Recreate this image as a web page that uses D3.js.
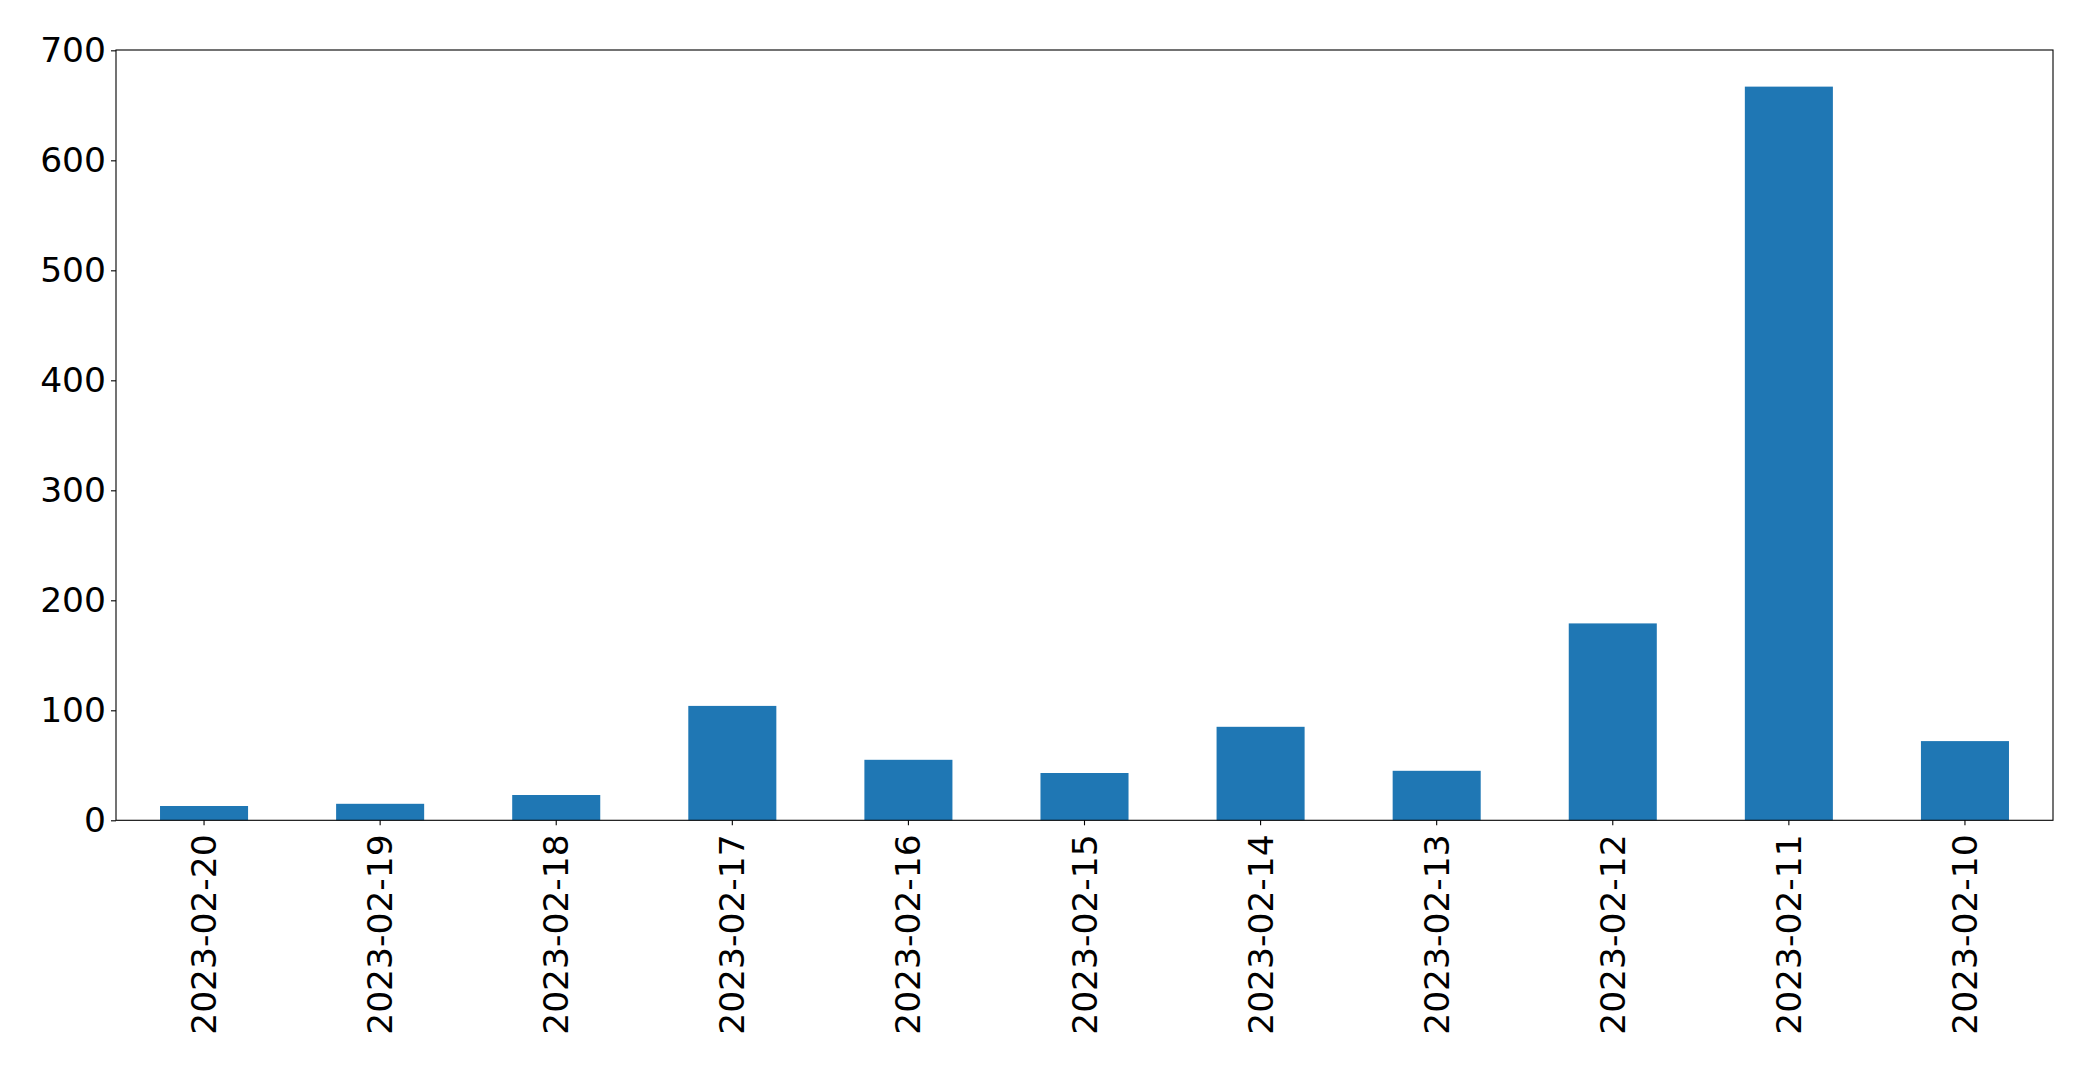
<!DOCTYPE html>
<html>
<head>
<meta charset="utf-8">
<script src="https://cdn.jsdelivr.net/npm/d3@7"></script>
<style>
  html, body { margin: 0; padding: 0; background: #fff; }
  svg { display: block; }
  text { font-family: "DejaVu Sans", sans-serif; fill: #000; }
</style>
</head>
<body>
<svg id="chart" width="2093" height="1072"></svg>
<script>
const categories = ["2023-02-20","2023-02-19","2023-02-18","2023-02-17","2023-02-16","2023-02-15","2023-02-14","2023-02-13","2023-02-12","2023-02-11","2023-02-10"];
const values = [13, 15, 23, 104, 55, 43, 85, 45, 179, 667, 72];
const yTicks = [0, 100, 200, 300, 400, 500, 600, 700];

const W = 2093, H = 1072;
const m = { left: 116, right: 2053, top: 50, bottom: 820.3 };
const fontSize = 34.5;

const svg = d3.select("#chart");

const x = d3.scaleBand()
  .domain(categories)
  .range([m.left, m.right])
  .paddingInner(0.5)
  .paddingOuter(0.25);

const y = d3.scaleLinear()
  .domain([0, 700.3])
  .range([m.bottom, m.top]);

// bars
svg.append("g")
  .selectAll("rect")
  .data(categories)
  .join("rect")
  .attr("x", d => x(d))
  .attr("width", x.bandwidth())
  .attr("y", (d, i) => y(values[i]))
  .attr("height", (d, i) => y(0) - y(values[i]))
  .attr("fill", "#1f77b4");

// y axis
const yAxis = svg.append("g")
  .attr("transform", `translate(${m.left},0)`)
  .call(d3.axisLeft(y).tickValues(yTicks).tickSize(5).tickPadding(5).tickFormat(d3.format("d")));
yAxis.select(".domain").remove();
yAxis.selectAll(".tick line").attr("stroke", "#000").attr("stroke-width", 1.1);
yAxis.selectAll(".tick text")
  .style("font-family", "'DejaVu Sans', sans-serif")
  .style("font-size", fontSize + "px")
  .attr("fill", "#000");

// x axis
const xAxis = svg.append("g")
  .attr("transform", `translate(0,${m.bottom})`)
  .call(d3.axisBottom(x).tickSize(5).tickPadding(5));
xAxis.select(".domain").remove();
xAxis.selectAll(".tick line").attr("stroke", "#000").attr("stroke-width", 1.1);
xAxis.selectAll(".tick text")
  .style("font-family", "'DejaVu Sans', sans-serif")
  .style("font-size", fontSize + "px")
  .attr("fill", "#000")
  .attr("text-anchor", "end")
  .attr("dy", "0.35em")
  .attr("x", 0)
  .attr("y", 0)
  .attr("transform", "translate(0,14) rotate(-90)");

// frame
svg.append("rect")
  .attr("x", m.left)
  .attr("y", m.top)
  .attr("width", m.right - m.left)
  .attr("height", m.bottom - m.top)
  .attr("fill", "none")
  .attr("stroke", "#000")
  .attr("stroke-width", 1.1);
</script>
</body>
</html>
